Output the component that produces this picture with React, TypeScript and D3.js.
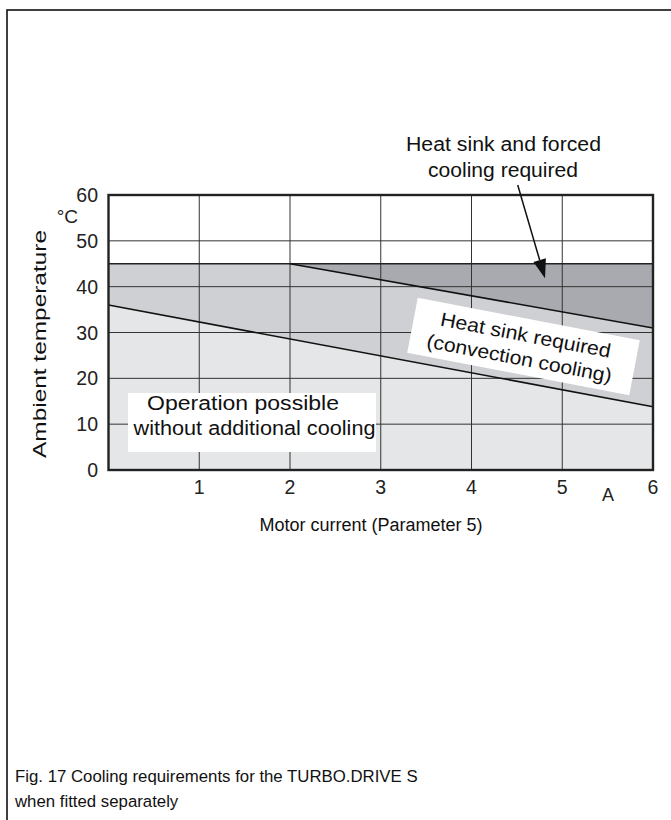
import React from "react";
import * as d3 from "d3";

const xTicks = [1, 2, 3, 4, 5, 6];
const yTicks = [0, 10, 20, 30, 40, 50, 60];
const gridX = [1, 2, 3, 4, 5];
const gridY = [10, 20, 30, 40, 50];
const limitTemp = 45;
const lowerLineCurrent = [0, 6];
const lowerLineTemp = [36, 13.8];
const upperLineCurrent = [2, 6];
const upperLineTemp = [45, 31];

const W = 671;
const H = 820;
const FONT = "'Liberation Sans', Arial, sans-serif";

export default function App() {
  const x = d3.scaleLinear().domain([0, 6]).range([108.5, 653]);
  const y = d3.scaleLinear().domain([0, 60]).range([470, 195]);
  const line = d3
    .line<[number, number]>()
    .x((d) => x(d[0]))
    .y((d) => y(d[1]));
  const poly = (pts: [number, number][]) => line(pts) + "Z";

  const lower: [number, number][] = lowerLineCurrent.map((c, i) => [c, lowerLineTemp[i]]);
  const upper: [number, number][] = upperLineCurrent.map((c, i) => [c, upperLineTemp[i]]);

  const lightRegion: [number, number][] = [[0, 0], lower[0], lower[1], [6, 0]];
  const midRegion: [number, number][] = [lower[0], [0, limitTemp], upper[0], upper[1], lower[1]];
  const darkRegion: [number, number][] = [upper[0], [6, limitTemp], upper[1]];

  const rotCx = 523.5;
  const rotCy = 346.5;
  const rotAngle = 10.8;

  const x1 = 517.7, y1 = 185, x2 = 545, y2 = 278.3;
  const ang = Math.atan2(y2 - y1, x2 - x1);
  const len = 19, hw = 6.5;
  const bx = x2 - len * Math.cos(ang), by = y2 - len * Math.sin(ang);
  const px = -Math.sin(ang), py = Math.cos(ang);

  return (
    <svg
      width={W}
      height={H}
      style={{ position: "absolute", left: 0, top: 0, background: "#fff" }}
      fontFamily={FONT}
    >
      {/* outer frame */}
      <rect x={7} y={10} width={700} height={840} fill="none" stroke="#111" strokeWidth={1.6} />

      {/* regions */}
      <path d={poly(lightRegion)} fill="#e5e6e8" />
      <path d={poly(midRegion)} fill="#cfd0d3" />
      <path d={poly(darkRegion)} fill="#a9aaaf" />

      {/* grid */}
      {gridX.map((v) => (
        <line key={"gx" + v} x1={x(v)} x2={x(v)} y1={y(0)} y2={y(60)} stroke="#333" strokeWidth={1} />
      ))}
      {gridY.map((v) => (
        <line key={"gy" + v} x1={x(0)} x2={x(6)} y1={y(v)} y2={y(v)} stroke="#333" strokeWidth={1} />
      ))}

      {/* limit and boundary lines */}
      <line x1={x(0)} x2={x(6)} y1={y(limitTemp)} y2={y(limitTemp)} stroke="#222" strokeWidth={1.6} />
      <path d={line(lower) || ""} fill="none" stroke="#111" strokeWidth={1.6} />
      <path d={line(upper) || ""} fill="none" stroke="#111" strokeWidth={1.6} />

      {/* frame */}
      <rect x={x(0)} y={y(60)} width={x(6) - x(0)} height={y(0) - y(60)} fill="none" stroke="#222" strokeWidth={2.4} />

      {/* y tick labels */}
      {yTicks.map((v) => (
        <text key={"yt" + v} x={98} y={y(v)} dy="0.36em" textAnchor="end" fontSize={19.5} fill="#222">
          {v}
        </text>
      ))}
      <text x={78} y={223} textAnchor="end" fontSize={19} fill="#222">°C</text>

      {/* x tick labels */}
      {xTicks.map((v) => (
        <text key={"xt" + v} x={x(v)} y={494} textAnchor="middle" fontSize={19.5} fill="#222">
          {v}
        </text>
      ))}
      <text x={608} y={501} textAnchor="middle" fontSize={18} fill="#222">A</text>

      {/* axis titles */}
      <text x={371} y={531} textAnchor="middle" fontSize={18} fill="#111">Motor current (Parameter 5)</text>
      <text
        transform={`translate(46,344) rotate(-90)`}
        textAnchor="middle"
        fontSize={18.5}
        fill="#111"
        textLength={228}
        lengthAdjust="spacingAndGlyphs"
      >
        Ambient temperature
      </text>

      {/* operation label */}
      <rect x={128} y={393} width={248} height={59} fill="#fff" />
      <text x={243} y={410} textAnchor="middle" fontSize={19.5} fill="#111" textLength={192} lengthAdjust="spacingAndGlyphs">
        Operation possible
      </text>
      <text x={254.5} y={435} textAnchor="middle" fontSize={19.5} fill="#111" textLength={242} lengthAdjust="spacingAndGlyphs">
        without additional cooling
      </text>

      {/* heat sink label (rotated) */}
      <g transform={`translate(${rotCx},${rotCy}) rotate(${rotAngle})`}>
        <rect x={-113} y={-28} width={226} height={56} fill="#fff" />
        <text x={0} y={-5} textAnchor="middle" fontSize={19.5} fill="#111" textLength={173} lengthAdjust="spacingAndGlyphs">
          Heat sink required
        </text>
        <text x={-2} y={19} textAnchor="middle" fontSize={19.5} fill="#111" textLength={188} lengthAdjust="spacingAndGlyphs">
          (convection cooling)
        </text>
      </g>

      {/* forced cooling annotation */}
      <text x={503.5} y={151} textAnchor="middle" fontSize={19.5} fill="#111" textLength={195} lengthAdjust="spacingAndGlyphs">
        Heat sink and forced
      </text>
      <text x={503} y={177} textAnchor="middle" fontSize={19.5} fill="#111" textLength={150} lengthAdjust="spacingAndGlyphs">
        cooling required
      </text>
      <line x1={x1} y1={y1} x2={bx} y2={by} stroke="#111" strokeWidth={1.5} />
      <path d={`M${x2},${y2}L${bx + px * hw},${by + py * hw}L${bx - px * hw},${by - py * hw}Z`} fill="#111" />

      {/* caption */}
      <text x={15} y={782} fontSize={16.8} fill="#111">Fig. 17 Cooling requirements for the TURBO.DRIVE S</text>
      <text x={15} y={807} fontSize={16.8} fill="#111">when fitted separately</text>
    </svg>
  );
}
